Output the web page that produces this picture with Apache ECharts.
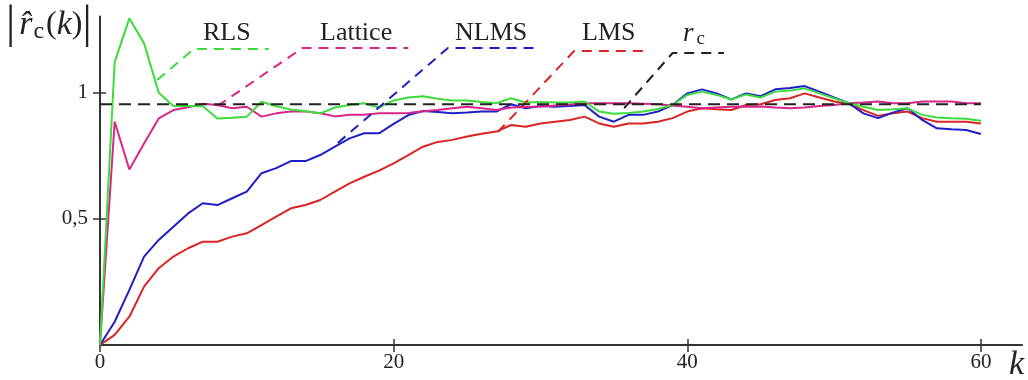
<!DOCTYPE html>
<html>
<head>
<meta charset="utf-8">
<script src="https://cdn.jsdelivr.net/npm/echarts@6/dist/echarts.min.js"></script>
<style>
  html, body { margin: 0; padding: 0; background: #fff; }
  #main { width: 1028px; height: 380px; }
</style>
</head>
<body>
<div id="main"></div>
<script>
// k = 0..60
var kValues = []
for (var i = 0; i <= 60; i++) kValues.push(i)

var rls = [0, 1.12, 1.293, 1.194, 0.999, 0.946, 0.946, 0.945, 0.897, 0.90, 0.904, 0.963, 0.945, 0.932, 0.925, 0.917, 0.940, 0.950, 0.957, 0.940,
  0.968, 0.980, 0.985, 0.975, 0.968, 0.968, 0.962, 0.957, 0.977, 0.960, 0.962, 0.960, 0.960, 0.964, 0.924, 0.915, 0.918, 0.924, 0.934, 0.950,
  0.990, 1.003, 0.990, 0.972, 0.992, 0.980, 1.003, 1.007, 1.016, 0.996, 0.977, 0.957, 0.943, 0.930, 0.933, 0.937, 0.911, 0.901, 0.898, 0.896, 0.888]
var lattice = [0, 0.884, 0.695, 0.798, 0.897, 0.930, 0.941, 0.955, 0.950, 0.937, 0.943, 0.904, 0.917, 0.924, 0.924, 0.917, 0.905, 0.911, 0.911, 0.917,
  0.917, 0.918, 0.925, 0.930, 0.937, 0.943, 0.937, 0.930, 0.940, 0.942, 0.944, 0.948, 0.952, 0.957, 0.957, 0.957, 0.957, 0.955, 0.953, 0.948,
  0.943, 0.937, 0.940, 0.943, 0.943, 0.944, 0.940, 0.937, 0.940, 0.946, 0.950, 0.957, 0.960, 0.964, 0.957, 0.957, 0.964, 0.964, 0.964, 0.957, 0.957]
var nlms = [0, 0.092, 0.218, 0.350, 0.416, 0.468, 0.521, 0.561, 0.554, 0.581, 0.607, 0.680, 0.700, 0.728, 0.728, 0.752, 0.785, 0.818, 0.838, 0.838,
  0.875, 0.910, 0.926, 0.922, 0.917, 0.920, 0.924, 0.924, 0.953, 0.937, 0.946, 0.943, 0.946, 0.950, 0.904, 0.884, 0.911, 0.911, 0.924, 0.950,
  0.996, 1.012, 0.996, 0.972, 0.996, 0.985, 1.012, 1.017, 1.025, 1.003, 0.980, 0.957, 0.917, 0.898, 0.920, 0.937, 0.891, 0.858, 0.854, 0.851, 0.835]
var lms = [0, 0.040, 0.112, 0.231, 0.304, 0.350, 0.383, 0.409, 0.409, 0.429, 0.442, 0.475, 0.508, 0.541, 0.554, 0.574, 0.607, 0.640, 0.666, 0.690,
  0.719, 0.752, 0.785, 0.804, 0.812, 0.825, 0.836, 0.845, 0.871, 0.864, 0.877, 0.884, 0.891, 0.904, 0.877, 0.864, 0.877, 0.877, 0.884, 0.898,
  0.924, 0.937, 0.933, 0.930, 0.950, 0.953, 0.970, 0.977, 0.996, 0.980, 0.964, 0.954, 0.930, 0.907, 0.917, 0.924, 0.898, 0.884, 0.884, 0.884, 0.877]
var rcLevel = 0.953

// dashed leader lines from each label to its curve, in data units (k, |r|)
var rlsLeader = [[3.9, 1.049], [6.4, 1.172], [11.5, 1.172]]
var latticeLeader = [[8.0, 0.946], [13.8, 1.176], [21.0, 1.176]]
var nlmsLeader = [[16.2, 0.800], [23.7, 1.176], [29.7, 1.176]]
var lmsLeader = [[27.1, 0.843], [32.3, 1.164], [37.4, 1.164]]
var rcLeader = [[35.7, 0.938], [39.0, 1.156], [42.5, 1.156]]

var xTicks = [0, 20, 40, 60]
var yTicks = [0.5, 1]
var yTickLabels = { '0.5': '0,5', '1': '1' }

var GREEN = '#3ddc3d'
var MAGENTA = '#d9258a'
var BLUE = '#1f1fc8'
var RED = '#dc2323'
var serif = '"Liberation Serif", "DejaVu Serif", serif'

function pairs (ys) {
  return kValues.map(function (k, i) { return [k, ys[i]] })
}

function curve (name, ys, color) {
  return {
    name: name,
    type: 'line',
    data: pairs(ys),
    symbol: 'none',
    silent: true,
    lineStyle: { color: color, width: 2 },
    z: 3
  }
}

function leader (pts, color) {
  return {
    type: 'line',
    data: pts,
    symbol: 'none',
    silent: true,
    lineStyle: { color: color, width: 2, type: [10, 7] },
    z: 4
  }
}

var axisColor = '#333'
var chart = echarts.init(document.getElementById('main'))
chart.setOption({
  animation: false,
  grid: { left: 100, right: 6, top: 16.6, bottom: 35 },
  xAxis: [
    {
      type: 'value', min: 0, max: 62.8,
      axisLine: { lineStyle: { color: axisColor, width: 2 } },
      axisTick: { length: 7, customValues: xTicks, lineStyle: { color: axisColor, width: 1.5 } },
      splitLine: { show: false },
      axisLabel: {
        color: '#222', fontFamily: serif, fontSize: 21, margin: 7,
        customValues: xTicks
      }
    },
    {
      type: 'value', min: 0, max: 62.8, position: 'bottom',
      axisLine: { show: false },
      axisTick: { inside: true, length: 6, customValues: xTicks, lineStyle: { color: axisColor, width: 1.5 } },
      axisLabel: { show: false },
      splitLine: { show: false }
    }
  ],
  yAxis: [
    {
      type: 'value', min: 0, max: 1.3,
      axisLine: { show: true, lineStyle: { color: axisColor, width: 2 } },
      axisTick: { show: true, length: 7, customValues: yTicks, lineStyle: { color: axisColor, width: 1.5 } },
      splitLine: { show: false },
      axisLabel: {
        color: '#222', fontFamily: serif, fontSize: 21, margin: 12,
        customValues: yTicks,
        formatter: function (v) { return yTickLabels[String(v)] || '' }
      }
    },
    {
      type: 'value', min: 0, max: 1.3, position: 'left',
      axisLine: { show: false },
      axisTick: { show: true, inside: true, length: 6, customValues: yTicks, lineStyle: { color: axisColor, width: 1.5 } },
      axisLabel: { show: false },
      splitLine: { show: false }
    }
  ],
  series: [
    {
      name: 'rc',
      type: 'line',
      data: [[0, rcLevel], [60, rcLevel]],
      symbol: 'none',
      silent: true,
      lineStyle: { color: '#222', width: 2, type: [12, 7] },
      z: 5
    },
    curve('LMS', lms, RED),
    curve('NLMS', nlms, BLUE),
    curve('Lattice', lattice, MAGENTA),
    curve('RLS', rls, GREEN),
    leader(rlsLeader, GREEN),
    leader(latticeLeader, MAGENTA),
    leader(nlmsLeader, BLUE),
    leader(lmsLeader, RED),
    leader(rcLeader, '#222')
  ],
  graphic: [
    // y axis name |r̂c(k)|
    {
      type: 'text', left: 6, top: 2,
      style: {
        text: '{b||}{r|r\u0302}{c|c}{p|(}{k|k}{p|)}{b||}',
        rich: {
          b: { fontFamily: serif, fontSize: 46, fill: '#222' },
          r: { fontFamily: serif, fontSize: 34, fontStyle: 'italic', fill: '#222', padding: [0, 1, 0, 4] },
          c: { fontFamily: serif, fontSize: 24, fill: '#222', padding: [14, 2, 0, 0] },
          p: { fontFamily: serif, fontSize: 32, fill: '#222' },
          k: { fontFamily: serif, fontSize: 34, fontStyle: 'italic', fill: '#222' }
        }
      }
    },
    // x axis name k
    {
      type: 'text', left: 1009, top: 348,
      style: { text: 'k', fontFamily: serif, fontSize: 34, fontStyle: 'italic', fill: '#222' }
    },
    { type: 'text', left: 203, top: 20, style: { text: 'RLS', fontFamily: serif, fontSize: 26, fill: '#222' } },
    { type: 'text', left: 320, top: 20, style: { text: 'Lattice', fontFamily: serif, fontSize: 26, fill: '#222' } },
    { type: 'text', left: 455, top: 20, style: { text: 'NLMS', fontFamily: serif, fontSize: 26, fill: '#222' } },
    { type: 'text', left: 582, top: 20, style: { text: 'LMS', fontFamily: serif, fontSize: 26, fill: '#222' } },
    {
      type: 'text', left: 683, top: 20,
      style: {
        text: '{r|r}{c|c}',
        rich: {
          r: { fontFamily: serif, fontSize: 27, fontStyle: 'italic', fill: '#222' },
          c: { fontFamily: serif, fontSize: 19, fill: '#222', padding: [12, 0, 0, 3] }
        }
      }
    }
  ]
})
</script>
</body>
</html>
